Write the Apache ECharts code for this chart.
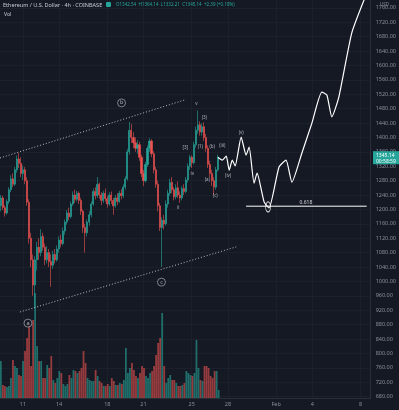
<!DOCTYPE html>
<html>
<head>
<meta charset="utf-8">
<script src="https://cdn.jsdelivr.net/npm/echarts@6/dist/echarts.min.js"></script>
<style>
  html, body { margin: 0; padding: 0; background: #151924; }
  #main { width: 399px; height: 410px; }
</style>
</head>
<body>
<div id="main"></div>
<script>
// 4h K线：第一根的时间，之后每根 +4 小时
var firstBar = new Date(2021, 0, 9, 4, 0);
var barHours = 4;

// K线数据 [开, 收, 低, 高]
var candles = [
    [1210, 1232, 1195, 1240], [1232, 1205, 1198, 1238], [1205, 1190, 1180, 1212], [1190, 1222, 1185, 1228],
    [1222, 1255, 1215, 1262], [1255, 1285, 1248, 1295], [1285, 1270, 1262, 1300], [1270, 1310, 1265, 1318],
    [1310, 1340, 1302, 1350], [1340, 1328, 1315, 1357], [1328, 1300, 1290, 1345], [1300, 1310, 1282, 1322],
    [1310, 1280, 1270, 1318], [1280, 1220, 1210, 1290], [1220, 1120, 1105, 1228], [1120, 1060, 1040, 1135],
    [1060, 990, 960, 1075], [990, 1060, 925, 1070], [1060, 1095, 1030, 1110], [1095, 1080, 1060, 1120],
    [1080, 1125, 1070, 1145], [1125, 1095, 1085, 1135], [1095, 1060, 1045, 1105], [1060, 1080, 1050, 1098],
    [1080, 1055, 1040, 1090], [1055, 1045, 985, 1075], [1045, 1075, 1035, 1085], [1075, 1060, 1050, 1090],
    [1060, 1090, 1055, 1100], [1090, 1115, 1080, 1125], [1115, 1105, 1095, 1130], [1105, 1140, 1100, 1150],
    [1140, 1165, 1130, 1172], [1165, 1190, 1158, 1198], [1190, 1180, 1170, 1205], [1180, 1215, 1175, 1222],
    [1215, 1240, 1210, 1250], [1240, 1228, 1218, 1255], [1228, 1245, 1222, 1252], [1245, 1225, 1215, 1250],
    [1225, 1195, 1185, 1232], [1195, 1150, 1135, 1200], [1150, 1135, 1080, 1160], [1135, 1165, 1125, 1172],
    [1165, 1185, 1155, 1195], [1185, 1215, 1178, 1222], [1215, 1250, 1210, 1258], [1250, 1238, 1228, 1262],
    [1238, 1270, 1232, 1290], [1270, 1240, 1230, 1275], [1240, 1225, 1212, 1248], [1225, 1245, 1218, 1252],
    [1245, 1230, 1222, 1258], [1230, 1215, 1205, 1238], [1215, 1240, 1210, 1248], [1240, 1225, 1215, 1250],
    [1225, 1210, 1185, 1232], [1210, 1232, 1205, 1240], [1232, 1222, 1212, 1245], [1222, 1245, 1218, 1252],
    [1245, 1238, 1228, 1256], [1238, 1262, 1232, 1270], [1262, 1285, 1255, 1292], [1285, 1360, 1280, 1368],
    [1360, 1420, 1352, 1443], [1420, 1400, 1385, 1438], [1400, 1385, 1370, 1415], [1385, 1370, 1360, 1400],
    [1370, 1380, 1355, 1392], [1380, 1345, 1335, 1388], [1345, 1300, 1290, 1352], [1300, 1280, 1265, 1310],
    [1280, 1325, 1275, 1332], [1325, 1370, 1318, 1378], [1370, 1390, 1360, 1398], [1390, 1355, 1345, 1395],
    [1355, 1310, 1300, 1362], [1310, 1270, 1260, 1318], [1270, 1210, 1195, 1280], [1210, 1150, 1140, 1218],
    [1150, 1170, 1040, 1178], [1170, 1160, 1145, 1185], [1160, 1215, 1155, 1225], [1215, 1245, 1205, 1255],
    [1245, 1275, 1238, 1285], [1275, 1255, 1245, 1290], [1255, 1235, 1225, 1262], [1235, 1260, 1228, 1270],
    [1260, 1240, 1232, 1278], [1240, 1232, 1218, 1250], [1232, 1258, 1225, 1265], [1258, 1250, 1240, 1270],
    [1250, 1282, 1245, 1290], [1282, 1320, 1275, 1328], [1320, 1345, 1310, 1352], [1345, 1330, 1315, 1350],
    [1330, 1380, 1325, 1388], [1380, 1420, 1372, 1430], [1420, 1435, 1410, 1475], [1435, 1415, 1405, 1445],
    [1415, 1430, 1405, 1440], [1430, 1400, 1390, 1442], [1400, 1370, 1360, 1410], [1370, 1325, 1315, 1378],
    [1325, 1300, 1290, 1335], [1300, 1280, 1265, 1310], [1280, 1262, 1240, 1290], [1262, 1310, 1255, 1318],
    [1310, 1345.14, 1305, 1352]
];

// 成交量（千）
var volumes = [
    37, 13, 12, 11, 12, 20, 38, 32, 30, 23, 22, 37, 47, 60, 75, 32, 78, 105, 52, 37,
    37, 20, 20, 33, 30, 42, 18, 15, 20, 27, 25, 14, 12, 14, 23, 20, 28, 27, 25, 27,
    30, 47, 35, 20, 18, 17, 17, 28, 22, 17, 15, 12, 12, 14, 12, 20, 17, 13, 13, 15,
    14, 18, 50, 25, 30, 35, 28, 22, 20, 25, 32, 30, 22, 20, 25, 27, 32, 43, 55, 60,
    85, 32, 15, 20, 23, 18, 18, 15, 12, 12, 13, 15, 27, 25, 23, 22, 25, 58, 30, 18,
    17, 32, 32, 30, 22, 20, 27, 27, 8
];

// 坐标轴刻度
var dateTicks = ['2021-01-11', '2021-01-14', '2021-01-18', '2021-01-21', '2021-01-25',
                 '2021-01-28', '2021-02-01', '2021-02-04', '2021-02-08'];
var priceTicks = [680, 720, 760, 800, 840, 880, 920, 960, 1000, 1040, 1080, 1120, 1160, 1200,
                  1240, 1280, 1320, 1360, 1400, 1440, 1480, 1520, 1560, 1600, 1640, 1680, 1720, 1760];

// 通道线（虚线）
var upperChannel = [['2021-01-09 02:24', 1343], ['2021-01-24 09:20', 1504]];
var lowerChannel = [['2021-01-10 18:00', 915], ['2021-01-28 16:30', 1096]];

// 预测走势线
var projection = [
    ['2021-01-27 04:00', 1345], ['2021-01-27 12:45', 1337], ['2021-01-27 20:38', 1348],
    ['2021-01-28 02:38', 1309], ['2021-01-28 08:38', 1337], ['2021-01-28 14:24', 1321],
    ['2021-01-29 02:24', 1401], ['2021-01-29 12:15', 1351], ['2021-01-29 18:15', 1373],
    ['2021-01-30 04:05', 1273], ['2021-01-30 10:05', 1301], ['2021-01-31 00:00', 1221],
    ['2021-01-31 09:50', 1204], ['2021-02-01 05:45', 1318], ['2021-02-01 19:40', 1337],
    ['2021-02-02 07:25', 1276], ['2021-02-03 03:20', 1357], ['2021-02-03 23:15', 1440],
    ['2021-02-04 19:00', 1526], ['2021-02-05 05:00', 1518], ['2021-02-05 14:53', 1457],
    ['2021-02-06 04:48', 1512], ['2021-02-07 06:29', 1690], ['2021-02-08 08:24', 1787]
];

// 0.618 回撤线
var fibLine = [['2021-01-29 12:15', 1209], ['2021-02-08 12:15', 1209]];
var fibLabel = ['2021-02-03 11:15', 1209, '0.618'];
var targetEllipse = ['2021-01-31 08:00', 1207];

// 圆圈字母
var circleMarks = [
    ['2021-01-19 04:20', 1496, 'b'],
    ['2021-01-22 11:45', 998, 'c'],
    ['2021-01-11 10:00', 884, 'a']
];

// 波浪标注
var waveMarks = [
    ['2021-01-25 09:10', 1493, 'v'],
    ['2021-01-26 01:00', 1454, '(3)'],
    ['2021-01-24 11:15', 1371, '[3]'],
    ['2021-01-25 17:00', 1373, '(1)'],
    ['2021-01-26 16:48', 1373, '(b)'],
    ['2021-01-27 12:45', 1376, '(iii)'],
    ['2021-01-25 01:12', 1298, 'iv'],
    ['2021-01-26 07:00', 1282, '(a)'],
    ['2021-01-26 22:48', 1237, '(c)'],
    ['2021-01-28 00:30', 1293, '(iv)'],
    ['2021-01-29 02:24', 1412, '(v)'],
    ['2021-01-23 21:20', 1204, 'ii']
];

var upColor = '#26a69a';
var downColor = '#ef5350';
var textColor = '#8b8f9b';
var fontName = 'Noto Sans';

var chart = echarts.init(document.getElementById('main'), null, {renderer: 'canvas'});

function barTime(i) {
    return firstBar.getTime() + i * barHours * 3600 * 1000;
}

function parseTime(s) {
    return echarts.time.parse(s).getTime();
}

// 把 [时间字符串, 价格, ...] 转成数值坐标
function toPoints(list) {
    return list.map(function (p) {
        var r = p.slice();
        r[0] = parseTime(p[0]);
        return r;
    });
}

var xMin = parseTime('2021-01-09 02:20');
var xMax = parseTime('2021-02-08 20:10');

var candleData = [];
var volumeData = [];
candles.forEach(function (c, i) {
    var t = barTime(i);
    candleData.push([t, c[0], c[1], c[2], c[3]]);
    volumeData.push({
        value: [t, volumes[i]],
        itemStyle: {color: c[1] >= c[0] ? 'rgba(38,166,154,0.6)' : 'rgba(239,83,80,0.6)'}
    });
});

var tickTimes = dateTicks.map(parseTime);
var monthNames = ['Jan', 'Feb', 'Mar', 'Apr', 'May', 'Jun', 'Jul', 'Aug', 'Sep', 'Oct', 'Nov', 'Dec'];

var option = {
    animation: false,
    backgroundColor: '#151924',
    textStyle: {fontFamily: fontName},
    grid: [
        {left: 0, right: 27, top: 0, bottom: 12},
        {left: 0, right: 27, top: 280, bottom: 12}
    ],
    xAxis: [
        {
            type: 'value', gridIndex: 0, min: xMin, max: xMax,
            axisLine: {show: true, lineStyle: {color: '#2a2e39'}},
            axisTick: {show: false, customValues: tickTimes},
            axisLabel: {
                customValues: tickTimes, color: textColor, fontSize: 5.5, margin: 3,
                formatter: function (v) {
                    var d = new Date(v);
                    return d.getDate() === 1 ? monthNames[d.getMonth()] : String(d.getDate());
                }
            },
            splitLine: {show: true, lineStyle: {color: '#1c202b', width: 1}}
        },
        {
            type: 'value', gridIndex: 1, min: xMin, max: xMax,
            axisLine: {show: false}, axisTick: {show: false}, axisLabel: {show: false}, splitLine: {show: false}
        }
    ],
    yAxis: [
        {
            type: 'value', gridIndex: 0, position: 'right', min: 676, max: 1782,
            axisLine: {show: true, lineStyle: {color: '#2a2e39'}},
            axisTick: {show: false, customValues: priceTicks},
            axisLabel: {
                customValues: priceTicks, color: textColor, fontSize: 5.5, margin: 5,
                formatter: function (v) { return v.toFixed(2); }
            },
            splitLine: {show: true, lineStyle: {color: '#1c202b', width: 1}}
        },
        {
            type: 'value', gridIndex: 1, min: 0, max: 118,
            axisLine: {show: false}, axisTick: {show: false}, axisLabel: {show: false}, splitLine: {show: false}
        }
    ],
    series: [
        {
            name: 'Vol', type: 'bar', xAxisIndex: 1, yAxisIndex: 1,
            barWidth: 1.8, data: volumeData, z: 1
        },
        {
            name: 'ETHUSD', type: 'candlestick', xAxisIndex: 0, yAxisIndex: 0,
            barWidth: 1.6, data: candleData, z: 3,
            itemStyle: {color: upColor, color0: downColor, borderColor: upColor, borderColor0: downColor, borderWidth: 0.6}
        },
        {
            type: 'line', data: toPoints(upperChannel), symbol: 'none', z: 4,
            lineStyle: {color: '#b8bcc6', width: 1, type: [1, 2]}
        },
        {
            type: 'line', data: toPoints(lowerChannel), symbol: 'none', z: 4,
            lineStyle: {color: '#b8bcc6', width: 1, type: [1, 2]}
        },
        {
            type: 'line', data: toPoints(projection), symbol: 'none', smooth: 0.18, z: 5,
            lineStyle: {color: '#ffffff', width: 1.2}
        },
        {
            type: 'line', data: toPoints(fibLine), symbol: 'none', z: 5,
            lineStyle: {color: '#ffffff', width: 1}
        },
        {
            type: 'scatter', data: toPoints([fibLabel]), symbolSize: 0, z: 6,
            label: {
                show: true, position: 'top', distance: 1, color: '#ffffff', fontSize: 5,
                formatter: function (p) { return p.value[2]; }
            }
        },
        {
            type: 'scatter', data: toPoints([targetEllipse]), symbol: 'circle', symbolSize: [5, 10], z: 6,
            itemStyle: {color: 'rgba(0,0,0,0)', borderColor: '#ffffff', borderWidth: 1}
        },
        {
            type: 'scatter', data: toPoints(circleMarks), symbol: 'circle', symbolSize: 8, z: 6,
            itemStyle: {color: '#151924', borderColor: '#b8bcc6', borderWidth: 0.8},
            label: {
                show: true, position: 'inside', color: '#d1d4dc', fontSize: 5.5,
                formatter: function (p) { return p.value[2]; }
            }
        },
        {
            type: 'scatter', data: toPoints(waveMarks), symbolSize: 0, z: 6,
            label: {
                show: true, position: 'inside', color: '#d1d4dc', fontSize: 4.5,
                formatter: function (p) { return p.value[2]; }
            }
        }
    ]
};

chart.setOption(option);

// 右侧最新价标签
var lastClose = candles[candles.length - 1][1];
var py = chart.convertToPixel({yAxisIndex: 0}, lastClose);

chart.setOption({
    graphic: [
        {
            type: 'text', left: 3, top: 2,
            style: {text: 'Ethereum / U.S. Dollar · 4h · COINBASE', fill: '#c9ccd4', fontSize: 5.5, fontFamily: fontName}
        },
        {
            type: 'rect', left: 106, top: 2, shape: {width: 5, height: 5, r: 1},
            style: {fill: '#26a69a'}
        },
        {
            type: 'text', left: 116, top: 2.5,
            style: {text: 'O1342.54  H1364.14  L1332.21  C1345.14  +2.39 (+0.18%)', fill: '#26a69a', fontSize: 4.5, fontFamily: fontName}
        },
        {
            type: 'text', left: 4, top: 12,
            style: {text: 'Vol', fill: '#c9ccd4', fontSize: 5, fontFamily: fontName}
        },
        {
            type: 'text', left: 380, top: 2,
            style: {text: 'USD', fill: textColor, fontSize: 4.5, fontFamily: fontName}
        },
        {
            type: 'rect', left: 373, top: py - 6, z: 10, shape: {width: 26, height: 13},
            style: {fill: '#26a69a'}
        },
        {
            type: 'text', left: 376, top: py - 5, z: 11,
            style: {text: lastClose.toFixed(2) + '\n00:58:59', fill: '#ffffff', fontSize: 5, lineHeight: 6, fontFamily: fontName}
        }
    ]
});
</script>
</body>
</html>
